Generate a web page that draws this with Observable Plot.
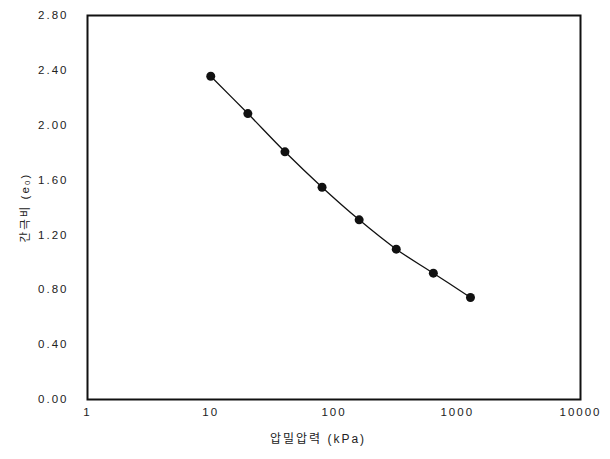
<!DOCTYPE html>
<html>
<head>
<meta charset="utf-8">
<script src="https://cdn.jsdelivr.net/npm/d3@7"></script>
<script src="https://cdn.jsdelivr.net/npm/@observablehq/plot@0.6"></script>
<style>
  html, body { margin: 0; padding: 0; background: #fff; }
  #chart svg text { letter-spacing: 2px; }
</style>
</head>
<body>
<div id="chart"></div>
<script>
const pressure = [10, 20, 40, 80, 160, 320, 640, 1280];
const voidRatio = [2.357, 2.085, 1.806, 1.548, 1.310, 1.096, 0.921, 0.744];
const xTicks = [1, 10, 100, 1000, 10000];
const yTicks = [0, 0.4, 0.8, 1.2, 1.6, 2.0, 2.4, 2.8];
const xLabel = "압밀압력 (kPa)";
const yLabel = "간극비 (e₀)";

const data = pressure.map((p, i) => ({p, e: voidRatio[i]}));

const chart = Plot.plot({
  width: 610,
  height: 459,
  marginLeft: 87,
  marginRight: 30,
  marginTop: 15,
  marginBottom: 60,
  style: {fontFamily: "'Liberation Sans', Arial, 'Noto Sans CJK KR', sans-serif", fontSize: "11.5px", color: "#222", background: "#fff"},
  x: {type: "log", domain: [1, 10000]},
  y: {domain: [0, 2.8]},
  marks: [
    Plot.axisX({ticks: xTicks, tickFormat: d => String(d), tickSize: 0, tickPadding: 8,
      label: null, fontSize: 11.5}),
    Plot.axisY({ticks: yTicks, tickFormat: d => d.toFixed(2), tickSize: 0, tickPadding: 19,
      label: yLabel, labelAnchor: "center", labelArrow: "none", labelOffset: 67,
      fontSize: 11.5}),
    Plot.text([xLabel], {text: d => d, frameAnchor: "bottom", dy: 43, dx: -16,
      fontSize: 12, fill: "#222"}),
    Plot.frame({stroke: "#111", strokeWidth: 2}),
    Plot.line(data, {x: "p", y: "e", curve: "catmull-rom", stroke: "#111", strokeWidth: 1.3}),
    Plot.dot(data, {x: "p", y: "e", r: 4.5, fill: "#111", stroke: "none"})
  ]
});
document.getElementById("chart").appendChild(chart);
</script>
</body>
</html>
